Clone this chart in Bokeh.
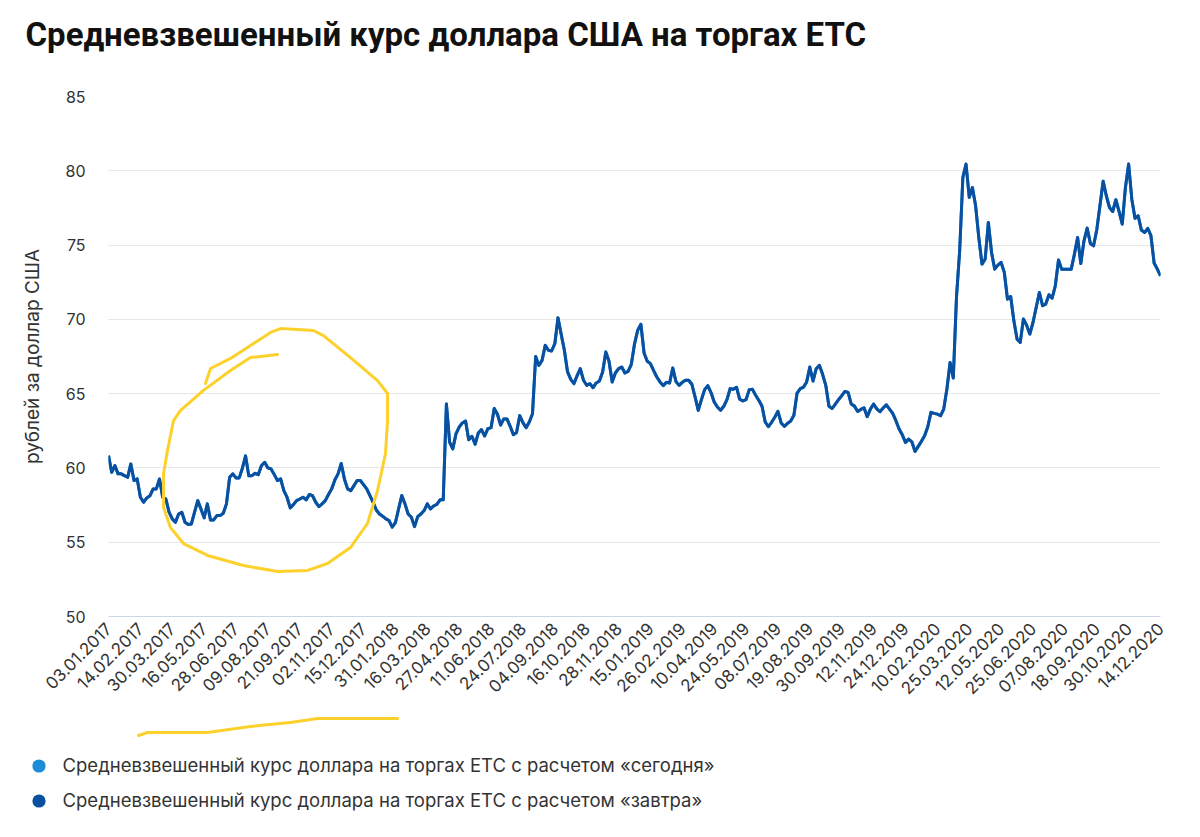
import numpy as np
from bokeh.plotting import figure
from bokeh.layouts import column
from bokeh.models import (Range1d, FixedTicker, Label, Legend, LegendItem,
                          ColumnDataSource)
from bokeh.embed import file_html
from bokeh.resources import INLINE

# ---------------- data ----------------
TITLE = "Средневзвешенный курс доллара США на торгах ЕТС"
Y_LABEL = "рублей за доллар США"
SERIES_TODAY = "Средневзвешенный курс доллара на торгах ЕТС с расчетом «сегодня»"
SERIES_TOMORROW = "Средневзвешенный курс доллара на торгах ЕТС с расчетом «завтра»"

# category labels shown every 30 trading days
date_labels = [
    "03.01.2017", "14.02.2017", "30.03.2017", "16.05.2017", "28.06.2017",
    "09.08.2017", "21.09.2017", "02.11.2017", "15.12.2017", "31.01.2018",
    "16.03.2018", "27.04.2018", "11.06.2018", "24.07.2018", "04.09.2018",
    "16.10.2018", "28.11.2018", "15.01.2019", "26.02.2019", "10.04.2019",
    "24.05.2019", "08.07.2019", "19.08.2019", "30.09.2019", "12.11.2019",
    "24.12.2019", "10.02.2020", "25.03.2020", "12.05.2020", "25.06.2020",
    "07.08.2020", "18.09.2020", "30.10.2020", "14.12.2020",
]
label_step = 30      # trading days between labels
sample_step = 3      # trading days between the values below

# rub per USD, "tomorrow" settlement, read every 3 trading days
usd_rub_tomorrow = [
    # 2017
    60.83, 59.71, 60.16, 59.60, 59.60, 59.48, 59.37, 60.27, 59.15, 59.26,
    58.03, 57.69, 57.98, 58.12, 58.59, 58.59, 59.26, 58.03, 57.91, 57.02,
    56.57, 56.34, 56.90, 57.02, 56.34, 56.19, 56.23, 57.02, 57.80, 57.24,
    56.64, 57.58, 56.50, 56.50, 56.79, 56.79, 56.95, 57.58, 59.37, 59.60,
    59.33, 59.33, 59.98, 60.81, 59.48, 59.48, 59.64, 59.55, 60.16, 60.38,
    60.00, 59.93, 59.55, 59.15, 59.26, 58.47, 58.03, 57.31, 57.53, 57.80,
    57.91, 58.03, 57.85, 58.21, 58.14, 57.69, 57.40, 57.58, 57.80, 58.21,
    58.59, 59.19, 59.60, 60.30, 59.26, 58.59, 58.47, 58.81, 59.15, 59.15,
    58.88, 58.59, 58.14, 57.69, 57.17, 56.90, 56.75, 56.57, 56.46, 56.01,
    # 2018
    56.32, 57.24, 58.14, 57.58, 56.90, 56.68, 56.05, 56.72, 56.90, 57.13,
    57.58, 57.24, 57.44, 57.55, 57.85, 57.85, 64.30, 61.73, 61.28, 62.29,
    62.74, 63.03, 63.16, 61.90, 62.13, 61.59, 62.35, 62.58, 62.15, 62.64,
    62.71, 64.00, 63.61, 62.89, 63.30, 63.30, 62.80, 62.24, 62.38, 63.52,
    63.05, 62.71, 63.09, 63.65, 67.50, 66.90, 67.24, 68.25, 67.92, 67.87,
    68.36, 70.10, 69.00, 67.92, 66.46, 65.96, 65.67, 66.21, 66.68, 65.90,
    65.56, 65.67, 65.40, 65.72, 65.85, 66.46, 67.80, 67.18, 65.79, 66.39,
    66.68, 66.79, 66.39, 66.50, 66.97, 68.34, 69.26, 69.67, 67.74, 67.18,
    # 2019
    67.02, 66.55, 66.12, 65.79, 65.54, 65.76, 65.72, 66.73, 65.81, 65.56,
    65.76, 65.90, 65.90, 65.63, 64.78, 63.88, 64.60, 65.27, 65.54, 65.07,
    64.44, 64.10, 63.88, 64.15, 64.60, 65.34, 65.29, 65.43, 64.62, 64.51,
    64.60, 65.27, 65.29, 64.89, 64.55, 64.15, 63.09, 62.78, 63.07, 63.41,
    63.81, 63.03, 62.80, 63.00, 63.16, 63.54, 65.04, 65.34, 65.43, 65.79,
    66.79, 65.85, 66.68, 66.91, 66.30, 65.56, 64.15, 64.00, 64.30, 64.60,
    64.86, 65.15, 65.08, 64.30, 64.16, 63.80, 63.94, 64.05, 63.45, 63.96,
    64.30, 63.98, 63.78, 64.03, 64.25, 63.96, 63.67, 63.18, 62.62, 62.23,
    61.72, 61.94, 61.76, 61.11, 61.45, 61.79, 62.17, 62.77, 63.74, 63.67,
    # 2020
    63.62, 63.51, 63.96, 65.31, 67.10, 66.05, 71.48, 74.62, 79.55, 80.45,
    78.21, 78.88, 77.64, 75.51, 73.72, 74.06, 76.52, 74.50, 73.38, 73.65,
    73.83, 73.16, 71.36, 71.54, 69.90, 68.67, 68.45, 70.02, 69.61, 69.01,
    69.79, 70.80, 71.81, 70.92, 71.03, 71.66, 71.43, 72.26, 73.99, 73.38,
    73.38, 73.38, 73.38, 74.39, 75.51, 73.76, 75.29, 76.14, 75.11, 74.95,
    76.01, 77.64, 79.30, 78.32, 77.53, 77.26, 78.05, 77.26, 76.41, 78.88,
    80.45, 78.09, 76.81, 76.97, 76.01, 75.85, 76.12, 75.63, 73.79, 73.38,
    72.93,
]
# "today" settlement is indistinguishable from "tomorrow" at this scale
usd_rub_today = list(usd_rub_tomorrow)

y_ticks = [50, 55, 60, 65, 70, 75, 80, 85]

# hand-drawn yellow highlight (trading-day index, rub)
highlight_x = [159.0, 133.6, 114.8, 89.4, 67.8, 61.2, 55.5, 51.8, 51.8, 58.3,
               70.6, 93.2, 127.0, 159.0, 187.3, 206.1, 227.7, 243.7, 253.2,
               260.7, 262.6, 262.6, 253.2, 227.7, 202.3, 192.9, 161.9, 152.5,
               133.6, 114.8, 96.0, 91.3]
highlight_y = [67.63, 67.43, 66.56, 65.22, 63.87, 63.19, 61.17, 59.63, 57.34,
               55.99, 54.91, 54.11, 53.43, 53.03, 53.10, 53.57, 54.64, 56.26,
               58.48, 60.97, 63.19, 65.01, 65.88, 67.43, 68.91, 69.25, 69.38,
               69.12, 68.24, 67.37, 66.69, 65.68]
# hand-drawn underline below the 2017 dates (same units, below the axis)
underline_x = [28.2, 36.7, 93.2, 133.6, 171.3, 196.7, 272.0]
underline_y = [41.99, 42.19, 42.19, 42.60, 42.87, 43.13, 43.13]

# ---------------- styles / layout ----------------
DARK = "#0a50a0"
LIGHT = "#1a8cd8"
YELLOW = "#fcd12c"
TEXT = "#333333"
FONT = "Inter"

W = 1192
TITLE_H = 60
FRAME_L, FRAME_W, FRAME_R = 108, 1052, 32
FRAME_TOP_PAD, FRAME_H, FRAME_BOTTOM_PAD = 36, 520, 98
LEGEND_H = 115

x_vals = [i * sample_step for i in range(len(usd_rub_tomorrow))]
tick_pos = [i * label_step for i in range(len(date_labels))]
x0, x1 = tick_pos[0], tick_pos[-1]
y0, y1 = y_ticks[0], y_ticks[-1]


def strip(height, x_range, y_range):
    f = figure(width=W, height=height, x_range=x_range, y_range=y_range,
               output_backend="svg", toolbar_location=None,
               x_axis_location=None, y_axis_location=None,
               min_border_left=0, min_border_right=0,
               min_border_top=0, min_border_bottom=0,
               outline_line_color=None, frame_align=False)
    f.grid.visible = False
    return f


# ---- title strip ----
ptitle = strip(TITLE_H, Range1d(0, 1), Range1d(0, 1))
ptitle.add_layout(Label(x=25, y=26, x_units="screen", y_units="screen", text=TITLE,
                        text_font="Roboto", text_font_size="33px",
                        text_font_style="bold", text_color="#111111",
                        text_baseline="alphabetic", text_align="left"))

# ---- main chart ----
p = figure(
    frame_width=FRAME_W, frame_height=FRAME_H,
    x_range=Range1d(x0, x1), y_range=Range1d(y0, y1),
    output_backend="svg", toolbar_location=None,
    min_border_left=FRAME_L, min_border_right=FRAME_R,
    min_border_top=FRAME_TOP_PAD, min_border_bottom=FRAME_BOTTOM_PAD,
    outline_line_color=None, frame_align=False,
)
p.xgrid.visible = False
p.ygrid.grid_line_color = "#e6e6e6"
p.ygrid.grid_line_width = 1

yax = p.yaxis[0]
yax.ticker = FixedTicker(ticks=y_ticks)
yax.axis_line_color = None
yax.major_tick_line_color = None
yax.minor_tick_line_color = None
yax.major_tick_out = 0
yax.major_label_standoff = 23
yax.major_label_text_font = FONT
yax.major_label_text_font_size = "16px"
yax.major_label_text_color = TEXT
yax.axis_label = Y_LABEL
yax.axis_label_text_font = FONT
yax.axis_label_text_font_style = "normal"
yax.axis_label_text_font_size = "19px"
yax.axis_label_text_color = TEXT
yax.axis_label_standoff = 18

xax = p.xaxis[0]
xax.ticker = FixedTicker(ticks=tick_pos)
xax.major_label_overrides = {t: lab for t, lab in zip(tick_pos, date_labels)}
xax.major_label_orientation = np.pi / 4
xax.axis_line_color = "#ccd6eb"
xax.axis_line_width = 1
xax.major_tick_line_color = None
xax.minor_tick_line_color = None
xax.major_tick_out = 0
xax.major_label_standoff = 9
xax.major_label_text_font = FONT
xax.major_label_text_font_size = "17px"
xax.major_label_text_color = TEXT

p.line(x_vals, usd_rub_today, line_color=LIGHT, line_width=3, line_join="round")
p.line(x_vals, usd_rub_tomorrow, line_color=DARK, line_width=3, line_join="round")
p.line(highlight_x, highlight_y, line_color=YELLOW, line_width=3,
       line_join="round", line_cap="round")

# ---- legend strip (same horizontal / vertical scale as the chart) ----
x_per_px = (x1 - x0) / FRAME_W
y_per_px = (y1 - y0) / FRAME_H
lx0 = x0 - FRAME_L * x_per_px
lx1 = x0 + (W - FRAME_L) * x_per_px
ly_top = y0 - FRAME_BOTTOM_PAD * y_per_px
ly_bot = ly_top - LEGEND_H * y_per_px

pleg = strip(LEGEND_H, Range1d(lx0, lx1), Range1d(ly_bot, ly_top))

seg = ColumnDataSource(dict(xa=underline_x[:-1], ya=underline_y[:-1],
                            xb=underline_x[1:], yb=underline_y[1:]))
pleg.segment(x0="xa", y0="ya", x1="xb", y1="yb", source=seg,
             line_color=YELLOW, line_width=3, line_cap="round")

nan = [float("nan")]
r_today = pleg.scatter(x=nan, y=nan, size=13, marker="circle",
                       fill_color=LIGHT, line_color=None)
r_tom = pleg.scatter(x=nan, y=nan, size=13, marker="circle",
                     fill_color=DARK, line_color=None)
legend = Legend(
    items=[LegendItem(label=SERIES_TODAY, renderers=[r_today]),
           LegendItem(label=SERIES_TOMORROW, renderers=[r_tom])],
    location=(21.5, 12.5), orientation="vertical",
    glyph_width=33, glyph_height=33, label_standoff=8, spacing=2,
    padding=0, margin=0, border_line_color=None, background_fill_alpha=0,
    label_text_font=FONT, label_text_font_size="18.5px", label_text_color=TEXT,
)
pleg.add_layout(legend, "center")

layout = column(ptitle, p, pleg, spacing=0)
open("out.html", "w").write(file_html(layout, INLINE))
